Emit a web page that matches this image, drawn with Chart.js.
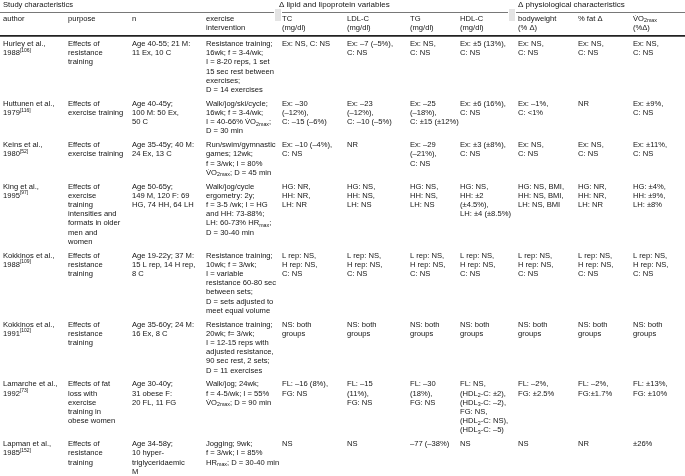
<!DOCTYPE html>
<html>
<head>
<meta charset="utf-8">
<script src="https://cdn.jsdelivr.net/npm/chart.js@4.4.1/dist/chart.umd.min.js"></script>
<style>
  html, body { margin: 0; padding: 0; background: #fff; }
  #wrap { width: 685px; height: 476px; position: relative; }
</style>
</head>
<body>
<div id="wrap"><canvas id="studyTable"></canvas></div>
<script>
// Table content: one array per column, each cell is a list of printed lines.
// _{..} = subscript, ^{..} = superscript
const groupHeaders = ['Study characteristics', 'Δ lipid and lipoprotein variables', 'Δ physiological characteristics'];
const columnHeaders = [
    ['author'], ['purpose'], ['n'], ['exercise', 'intervention'],
    ['TC', '(mg/dl)'], ['LDL-C', '(mg/dl)'], ['TG', '(mg/dl)'], ['HDL-C', '(mg/dl)'],
    ['bodyweight', '(% Δ)'], ['% fat Δ'], ['V̇O_{2max}', '(%Δ)']
];

const authors = [
    ['Hurley et al.,', '1988^{[106]}'],
    ['Huttunen et al.,', '1979^{[116]}'],
    ['Keins et al.,', '1980^{[52]}'],
    ['King et al.,', '1995^{[97]}'],
    ['Kokkinos et al.,', '1988^{[109]}'],
    ['Kokkinos et al.,', '1991^{[102]}'],
    ['Lamarche et al.,', '1992^{[73]}'],
    ['Lapman et al.,', '1985^{[152]}']
];
const purposes = [
    ['Effects of', 'resistance', 'training'],
    ['Effects of', 'exercise training'],
    ['Effects of', 'exercise training'],
    ['Effects of', 'exercise', 'training', 'intensities and', 'formats in older', 'men and', 'women'],
    ['Effects of', 'resistance', 'training'],
    ['Effects of', 'resistance', 'training'],
    ['Effects of fat', 'loss with', 'exercise', 'training in', 'obese women'],
    ['Effects of', 'resistance', 'training']
];
const subjects = [
    ['Age 40-55; 21 M:', '11 Ex, 10 C'],
    ['Age 40-45y;', '100 M: 50 Ex,', '50 C'],
    ['Age 35-45y; 40 M:', '24 Ex, 13 C'],
    ['Age 50-65y;', '149 M, 120 F: 69', 'HG, 74 HH, 64 LH'],
    ['Age 19-22y; 37 M:', '15 L rep, 14 H rep,', '8 C'],
    ['Age 35-60y; 24 M:', '16 Ex, 8 C'],
    ['Age 30-40y;', '31 obese F:', '20 FL, 11 FG'],
    ['Age 34-58y;', '10 hyper-', 'triglyceridaemic', 'M']
];
const interventions = [
    ['Resistance training;', '16wk; f = 3-4/wk;', 'I = 8-20 reps, 1 set', '15 sec rest between', 'exercises;', 'D = 14 exercises'],
    ['Walk/jog/ski/cycle;', '16wk; f = 3-4/wk;', 'I = 40-66% V̇O_{2max};', 'D = 30 min'],
    ['Run/swim/gymnastic', 'games; 12wk;', 'f = 3/wk; I = 80%', 'V̇O_{2max}; D = 45 min'],
    ['Walk/jog/cycle', 'ergometry: 2y;', 'f = 3-5 /wk; I = HG', 'and HH: 73-88%;', 'LH: 60-73% HR_{max};', 'D = 30-40 min'],
    ['Resistance training;', '10wk; f = 3/wk;', 'I = variable', 'resistance 60-80 sec', 'between sets;', 'D = sets adjusted to', 'meet equal volume'],
    ['Resistance training;', '20wk; f= 3/wk;', 'I = 12-15 reps with', 'adjusted resistance,', '90 sec rest, 2 sets;', 'D = 11 exercises'],
    ['Walk/jog; 24wk;', 'f = 4-5/wk; I = 55%', 'V̇O_{2max}; D = 90 min'],
    ['Jogging; 9wk;', 'f = 3/wk; I = 85%', 'HR_{max}; D = 30-40 min']
];
const tcValues = [
    ['Ex: NS, C: NS'],
    ['Ex: –30', '(–12%),', 'C: –15 (–6%)'],
    ['Ex: –10 (–4%),', 'C: NS'],
    ['HG: NR,', 'HH: NR,', 'LH: NR'],
    ['L rep: NS,', 'H rep: NS,', 'C: NS'],
    ['NS: both', 'groups'],
    ['FL: –16 (8%),', 'FG: NS'],
    ['NS']
];
const ldlValues = [
    ['Ex: –7 (–5%),', 'C: NS'],
    ['Ex: –23', '(–12%),', 'C: –10 (–5%)'],
    ['NR'],
    ['HG: NS,', 'HH: NS,', 'LH: NS'],
    ['L rep: NS,', 'H rep: NS,', 'C: NS'],
    ['NS: both', 'groups'],
    ['FL: –15', '(11%),', 'FG: NS'],
    ['NS']
];
const tgValues = [
    ['Ex: NS,', 'C: NS'],
    ['Ex: –25', '(–18%),', 'C: ±15 (±12%)'],
    ['Ex: –29', '(–21%),', 'C: NS'],
    ['HG: NS,', 'HH: NS,', 'LH: NS'],
    ['L rep: NS,', 'H rep: NS,', 'C: NS'],
    ['NS: both', 'groups'],
    ['FL: –30', '(18%),', 'FG: NS'],
    ['–77 (–38%)']
];
const hdlValues = [
    ['Ex: ±5 (13%),', 'C: NS'],
    ['Ex: ±6 (16%),', 'C: NS'],
    ['Ex: ±3 (±8%),', 'C: NS'],
    ['HG: NS,', 'HH: ±2', '(±4.5%),', 'LH: ±4 (±8.5%)'],
    ['L rep: NS,', 'H rep: NS,', 'C: NS'],
    ['NS: both', 'groups'],
    ['FL: NS,', '(HDL_{2}-C: ±2),', '(HDL_{3}-C: –2),', 'FG: NS,', '(HDL_{2}-C: NS),', '(HDL_{3}-C: –5)'],
    ['NS']
];
const bodyweightValues = [
    ['Ex: NS,', 'C: NS'],
    ['Ex: –1%,', 'C: <1%'],
    ['Ex: NS,', 'C: NS'],
    ['HG: NS, BMI,', 'HH: NS, BMI,', 'LH: NS, BMI'],
    ['L rep: NS,', 'H rep: NS,', 'C: NS'],
    ['NS: both', 'groups'],
    ['FL: –2%,', 'FG: ±2.5%'],
    ['NS']
];
const fatValues = [
    ['Ex: NS,', 'C: NS'],
    ['NR'],
    ['Ex: NS,', 'C: NS'],
    ['HG: NR,', 'HH: NR,', 'LH: NR'],
    ['L rep: NS,', 'H rep: NS,', 'C: NS'],
    ['NS: both', 'groups'],
    ['FL: –2%,', 'FG:±1.7%'],
    ['NR']
];
const vo2Values = [
    ['Ex: NS,', 'C: NS'],
    ['Ex: ±9%,', 'C: NS'],
    ['Ex: ±11%,', 'C: NS'],
    ['HG: ±4%,', 'HH: ±9%,', 'LH: ±8%'],
    ['L rep: NS,', 'H rep: NS,', 'C: NS'],
    ['NS: both', 'groups'],
    ['FL: ±13%,', 'FG: ±10%'],
    ['±26%']
];

const columns = [authors, purposes, subjects, interventions, tcValues, ldlValues, tgValues,
    hdlValues, bodyweightValues, fatValues, vo2Values];

// layout (table units, mapped through the chart scales)
const colLeft = [3, 68, 132, 206, 282, 347, 410, 460, 518, 578, 633];
const groupLeft = [3, 279, 518];
const groupRules = [[0, 274], [282, 508], [516, 685]];
const lineH = 9.2;
const rowPad = 4.6;
const firstRowY = 44;
const bodySize = 7.6;
const groupSize = 8;
const fontFamily = '"Liberation Sans", Arial, sans-serif';
const textColor = '#141414';

function drawRich(ctx, text, x, y, size) {
    const parts = text.split(/(_\{[^}]*\}|\^\{[^}]*\})/).filter(p => p.length);
    let cx = x;
    parts.forEach(p => {
        let s = size, dy = 0, t = p;
        if (p.startsWith('_{')) { s = size * 0.7; dy = 1.9; t = p.slice(2, -1); }
        else if (p.startsWith('^{')) { s = size * 0.66; dy = -2.7; t = p.slice(2, -1); }
        ctx.font = s + 'px ' + fontFamily;
        ctx.fillText(t, cx, y + dy);
        cx += ctx.measureText(t).width;
    });
}

const tablePlugin = {
    id: 'tablePlugin',
    afterDraw(chart) {
        const ctx = chart.ctx;
        const xs = chart.scales.x, ys = chart.scales.y;
        const px = v => xs.getPixelForValue(v);
        const py = v => ys.getPixelForValue(v);
        ctx.save();
        ctx.fillStyle = '#fff';
        ctx.fillRect(0, 0, chart.width, chart.height);
        ctx.textBaseline = 'middle';
        ctx.fillStyle = textColor;

        // group headers
        groupHeaders.forEach((g, i) => drawRich(ctx, g, px(groupLeft[i]), py(5), i === 0 ? bodySize : groupSize));

        // rules under the group headers
        ctx.strokeStyle = '#555';
        ctx.lineWidth = 0.8;
        groupRules.forEach(r => {
            ctx.beginPath();
            ctx.moveTo(px(r[0]), py(12.5));
            ctx.lineTo(px(r[1]), py(12.5));
            ctx.stroke();
        });
        ctx.fillStyle = '#e4e4e4';
        [[275, 281], [509, 515]].forEach(b => {
            ctx.fillRect(px(b[0]), py(9), px(b[1]) - px(b[0]), py(21) - py(9));
        });
        ctx.fillStyle = textColor;

        // column headers
        columnHeaders.forEach((h, i) => {
            h.forEach((line, k) => drawRich(ctx, line, px(colLeft[i]), py(19 + k * 8.8), bodySize));
        });

        // thick rule under the header
        ctx.strokeStyle = '#222';
        ctx.lineWidth = 1.7;
        ctx.beginPath();
        ctx.moveTo(px(0), py(35.8));
        ctx.lineTo(px(685), py(35.8));
        ctx.stroke();

        // body rows
        let y = firstRowY;
        for (let r = 0; r < authors.length; r++) {
            let maxLines = 0;
            columns.forEach((col, c) => {
                const cell = col[r];
                maxLines = Math.max(maxLines, cell.length);
                cell.forEach((line, k) => drawRich(ctx, line, px(colLeft[c]), py(y + k * lineH), bodySize));
            });
            y += maxLines * lineH + rowPad;
        }
        ctx.restore();
    }
};

new Chart(document.getElementById('studyTable'), {
    type: 'scatter',
    data: { datasets: [] },
    options: {
        responsive: true,
        maintainAspectRatio: false,
        animation: false,
        layout: { padding: 0 },
        scales: {
            x: { type: 'linear', min: 0, max: 685, display: false },
            y: { type: 'linear', min: 0, max: 476, reverse: true, display: false }
        },
        plugins: {
            legend: { display: false },
            tooltip: { enabled: false }
        }
    },
    plugins: [tablePlugin]
});
</script>
</body>
</html>
